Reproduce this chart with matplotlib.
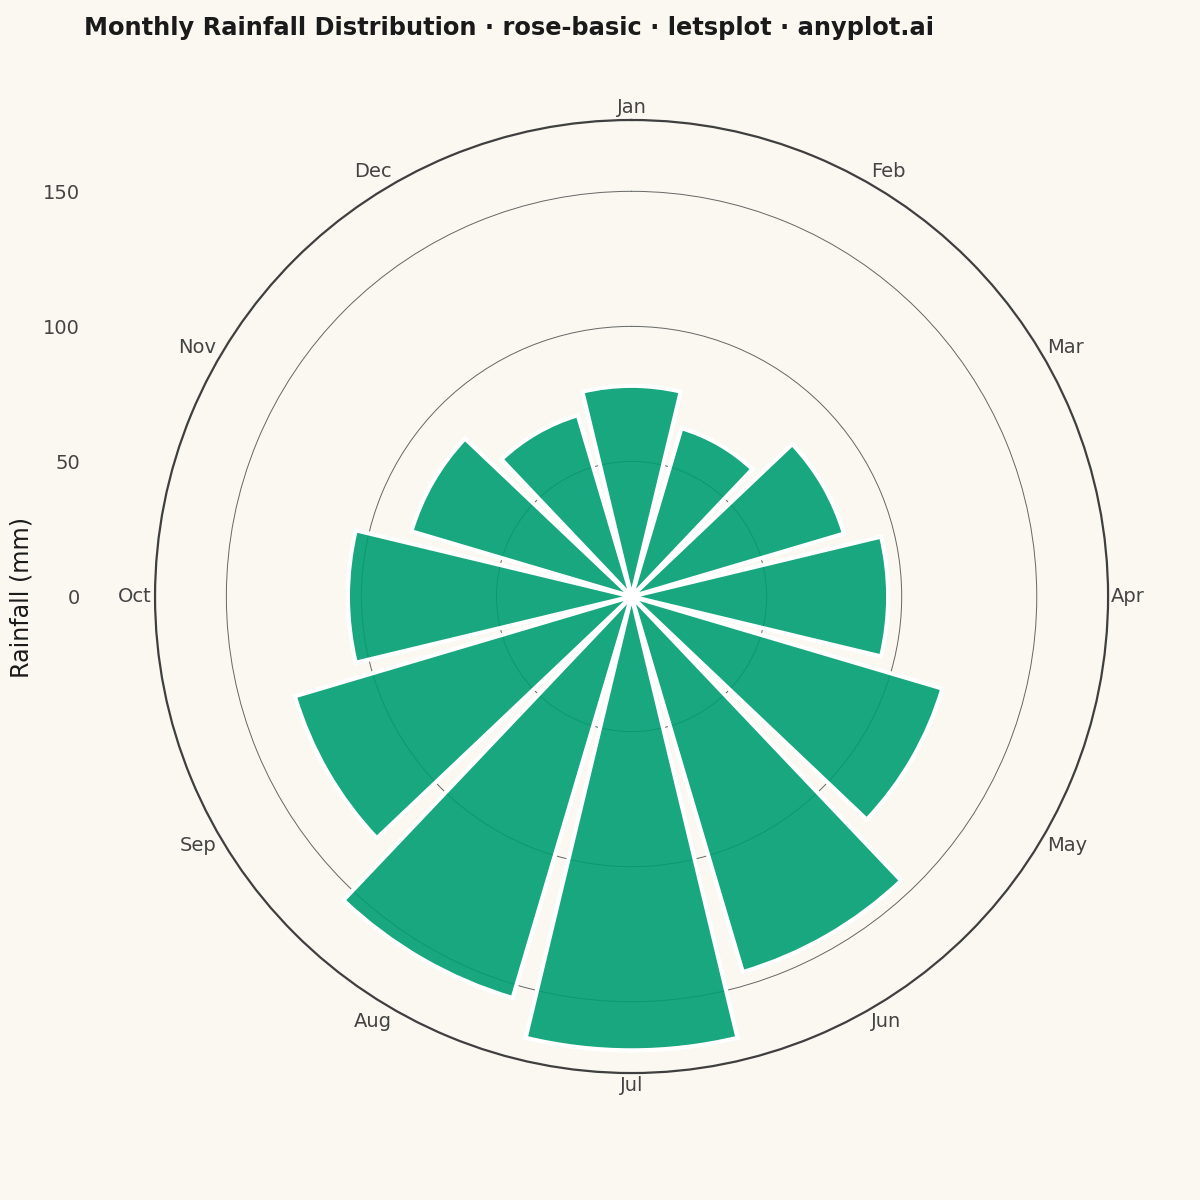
import numpy as np
import matplotlib.pyplot as plt

# Monthly rainfall data (mm)
months = ['Jan', 'Feb', 'Mar', 'Apr', 'May', 'Jun',
          'Jul', 'Aug', 'Sep', 'Oct', 'Nov', 'Dec']
rainfall = [78, 65, 82, 95, 120, 145, 168, 155, 130, 105, 85, 70]
r_ticks = [0, 50, 100, 150]

bg = '#FAF8F1'
bar_color = (0 / 255, 158 / 255, 115 / 255, 0.9)

fig = plt.figure(figsize=(12, 12), dpi=100, facecolor=bg)
ax = fig.add_axes([0.1292, 0.1058, 0.7942, 0.7942], projection='polar')
ax.set_facecolor(bg)

ax.set_theta_zero_location('N')
ax.set_theta_direction(-1)

angles = np.deg2rad(np.arange(len(months)) * 30)
width = np.deg2rad(30) * 0.9
ax.bar(angles, rainfall, width=width, color=bar_color,
       edgecolor='white', linewidth=3, zorder=2)

r_max = max(rainfall) * 1.05
ax.set_ylim(0, r_max)
ax.set_yticks(r_ticks[1:])
ax.set_yticklabels([])
ax.set_xticks(angles)
ax.set_xticklabels([])
ax.tick_params(length=0)
ax.yaxis.grid(True, color='#666666', linewidth=0.7)
ax.xaxis.grid(False)
ax.set_axisbelow(True)
ax.spines['polar'].set_color('#3f3f3f')
ax.spines['polar'].set_linewidth(1.6)

# Month labels just outside the outer circle
label_r = r_max * 480 / 477
for ang, name in zip(angles, months):
    s, c = np.sin(ang), np.cos(ang)
    ha = 'left' if s > 0.01 else ('right' if s < -0.01 else 'center')
    va = 'bottom' if c > 0.01 else ('top' if c < -0.01 else 'center')
    ax.text(ang, label_r, name, ha=ha, va=va, fontsize=14,
            color='#444444', clip_on=False)

# Radial tick labels drawn on the left like a vertical axis
fig.canvas.draw()
for v in r_ticks:
    _, y_disp = ax.transData.transform((0, v))
    y_fig = (y_disp - 2) / fig.bbox.height
    fig.text(80 / 1200, y_fig, str(v), ha='right', va='center',
             fontsize=14, color='#444444')

fig.text(22 / 1200, 1 - 597 / 1200, 'Rainfall (mm)', rotation=90,
         ha='center', va='center', fontsize=17.2, color='#1a1a1a')

fig.text(84 / 1200, 1 - 28 / 1200,
         'Monthly Rainfall Distribution · rose-basic · letsplot · anyplot.ai',
         ha='left', va='center', fontsize=17.35, fontweight='bold',
         color='#1a1a1a')

fig.savefig('out.png', dpi=100, facecolor=bg)
